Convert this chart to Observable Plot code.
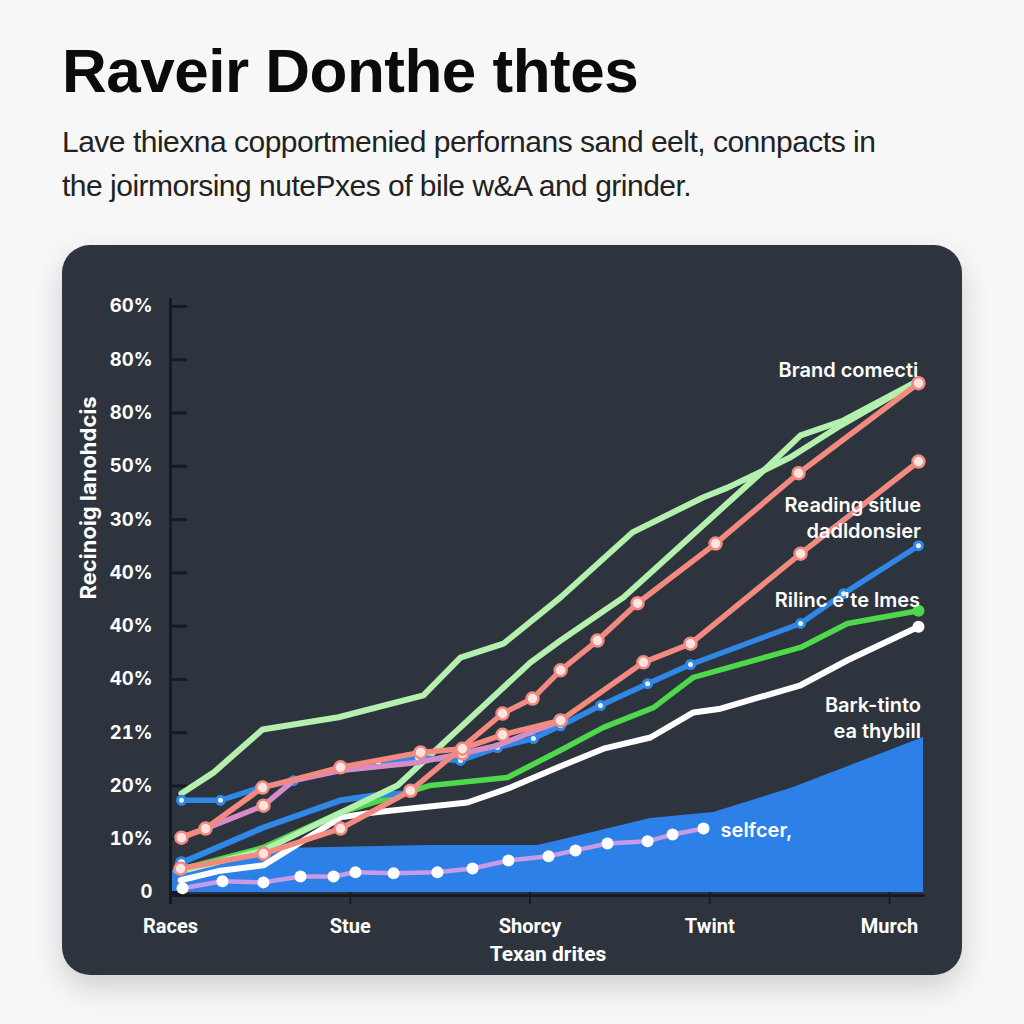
<!DOCTYPE html>
<html><head><meta charset="utf-8">
<script src="https://cdn.jsdelivr.net/npm/d3@7"></script>
<script src="https://cdn.jsdelivr.net/npm/@observablehq/plot@0.6"></script>
<style>
html,body{margin:0;padding:0;}
body{width:1024px;height:1024px;background:#f7f7f7;position:relative;overflow:hidden;font-family:"Liberation Sans",Arial,sans-serif;}
#title{position:absolute;left:62px;top:40px;margin:0;font-size:62px;line-height:62px;font-weight:700;color:#0b0b0b;letter-spacing:-0.5px;white-space:nowrap;}
#subtitle{position:absolute;left:62px;top:120px;margin:0;font-size:30px;line-height:44px;color:#222;letter-spacing:-0.5px;white-space:nowrap;}
#card{position:absolute;left:62px;top:245px;width:900px;height:730px;background:#2e343e;border-radius:28px;box-shadow:0 12px 30px rgba(0,0,0,0.16);}
#card svg{position:absolute;left:0;top:0;}
</style>
</head><body>
<h1 id="title">Raveir Donthe thtes</h1>
<p id="subtitle">Lave thiexna copportmenied perfornans sand eelt, connpacts in<br>the joirmorsing nutePxes of bile w&amp;A and grinder.</p>
<div id="card"></div>
<script>
// ---- data ----
const xLabels = ["Races", "Stue", "Shorcy", "Twint", "Murch"];
const xTicks = [0, 10, 20, 30, 40];
const yLabels = ["0", "10%", "20%", "21%", "40%", "40%", "40%", "30%", "50%", "80%", "80%", "60%"];
const yTicks = [0, 10, 20, 30, 40, 50, 60, 70, 80, 90, 100, 110];

const areaX = [0.11, 2.78, 5.56, 6.84, 14.3, 20.42, 21.7, 26.7, 30.21, 34.66, 41.89];
const areaY = [4.1, 5.1, 7.9, 8.3, 8.8, 8.8, 9.8, 13.9, 15.0, 19.7, 29.1];

const lavenderX = [0.67, 2.89, 5.17, 7.23, 9.07, 10.29, 12.41, 14.85, 16.8, 18.8, 21.03, 22.53, 24.31, 26.54, 27.93, 29.65];
const lavenderY = [0.8, 2.1, 1.9, 3.0, 3.0, 3.8, 3.6, 3.8, 4.5, 6.0, 6.8, 7.9, 9.2, 9.6, 10.9, 12.0];

const whiteX = [0.56, 2.78, 5.17, 9.46, 11.29, 16.52, 18.91, 21.7, 24.09, 26.7, 29.09, 30.6, 35.05, 37.66, 41.61];
const whiteY = [2.3, 4.1, 5.1, 14.1, 15.0, 16.9, 19.7, 23.7, 27.0, 29.1, 33.8, 34.5, 38.9, 43.6, 49.9];

const greenX = [0.28, 5.12, 9.46, 14.46, 18.75, 21.7, 24.09, 26.87, 29.09, 35.05, 37.66, 41.61];
const greenY = [4.1, 8.4, 15.0, 20.1, 21.6, 26.7, 31.0, 34.7, 40.4, 46.0, 50.5, 52.9];

const blueBX = [0.61, 5.17, 9.46, 11.29, 12.8];
const blueBY = [5.6, 12.2, 17.3, 18.2, 18.6];

const blueAX = [0.61, 2.78, 5.0, 6.84, 9.46, 11.57, 13.74, 16.13, 18.19, 20.19, 21.7, 23.92, 26.54, 28.93, 35.05, 37.44, 41.61];
const blueAY = [17.3, 17.3, 19.7, 21.0, 23.5, 24.2, 25.3, 24.8, 27.2, 28.9, 31.3, 35.1, 39.2, 42.8, 50.5, 56.1, 65.1];

const mauveX = [0.56, 1.95, 5.17, 6.84, 9.46, 13.74, 16.24, 18.19, 21.31];
const mauveY = [10.3, 12.0, 16.3, 21.0, 22.9, 24.4, 26.1, 27.6, 31.7];

const redBX = [0.61, 1.95, 5.12, 9.46, 13.91, 16.24, 18.47, 21.7, 26.31, 28.93, 35.05, 41.61];
const redBY = [10.3, 12.0, 19.7, 23.5, 26.3, 27.0, 29.6, 32.3, 43.2, 46.7, 63.6, 80.9];

const redAX = [0.56, 5.17, 9.46, 13.35, 18.47, 20.14, 21.7, 23.75, 25.98, 30.32, 34.94, 41.61];
const redAY = [4.5, 7.3, 12.0, 19.1, 33.6, 36.4, 41.7, 47.3, 54.3, 65.5, 78.7, 95.6];

const lightGreenAX = [0.61, 2.39, 5.12, 9.35, 14.07, 16.13, 18.52, 21.7, 25.7, 29.65, 30.99, 32.99, 34.49, 37.1, 41.56];
const lightGreenAY = [18.6, 22.5, 30.6, 32.9, 37.0, 44.1, 46.7, 55.4, 67.6, 74.2, 76.0, 79.2, 81.7, 87.3, 96.0];

const lightGreenBX = [0.61, 5.17, 9.46, 12.63, 16.13, 20.03, 21.7, 25.2, 32.99, 35.05, 37.44, 41.56];
const lightGreenBY = [4.0, 7.9, 15.0, 20.1, 31.0, 43.2, 47.3, 55.4, 79.2, 85.8, 88.6, 96.0];

const labelTexts = ["Brand comecti", "Reading sitlue\ndadldonsier", "Rilinc e'te lmes", "Bark-tinto\nea thybill"];
const labelX = [41.6, 41.75, 41.7, 41.75];
const labelY = [98.4, 70.6, 55.2, 33.0];
const noteText = ["selfcer,"];
const noteX = [30.6];
const noteY = [11.6];

// ---- build ----
const rows = (xs, ys) => xs.map((x, i) => ({x, y: ys[i]}));
const C = {
  axis: "#171b21", area: "#2d80e8", lavender: "#c79be6", white: "#ffffff",
  green: "#4fd84b", blue: "#2f87e6", mauve: "#d58cc8", red: "#f28a80", light: "#b4f0ae"
};
const lineOpts = (stroke, w = 5.5) => ({x: "x", y: "y", stroke, strokeWidth: w, strokeLinejoin: "round", strokeLinecap: "round"});

const lavender = rows(lavenderX, lavenderY);
const white = rows(whiteX, whiteY);
const green = rows(greenX, greenY);
const blueA = rows(blueAX, blueAY);
const blueB = rows(blueBX, blueBY);
const mauve = rows(mauveX, mauveY);
const redA = rows(redAX, redAY);
const redB = rows(redBX, redBY);
const lgA = rows(lightGreenAX, lightGreenAY);
const lgB = rows(lightGreenBX, lightGreenBY);
const labels = labelTexts.map((t, i) => ({text: t, x: labelX[i], y: labelY[i]}));
const notes = noteText.map((t, i) => ({text: t, x: noteX[i], y: noteY[i]}));

const chart = Plot.plot({
  width: 900, height: 730,
  marginLeft: 108, marginRight: 37, marginTop: 61, marginBottom: 83,
  x: {domain: [0, 42]},
  y: {domain: [0, 110]},
  style: {background: "transparent", color: "#fff", fontFamily: "Inter, sans-serif", overflow: "visible"},
  marks: [
    Plot.areaY(rows(areaX, areaY), {x: "x", y: "y", fill: C.area}),
    Plot.ruleY([0], {stroke: C.axis, strokeWidth: 3, dy: 3}),
    Plot.ruleX([0], {stroke: C.axis, strokeWidth: 3, insetTop: -8, insetBottom: -12}),
    Plot.axisY({ticks: yTicks, tickSize: 17, dx: 17, fill: "none", stroke: C.axis, strokeWidth: 3, label: null}),
    Plot.axisY({ticks: yTicks, tickSize: 0, tickPadding: 18, tickFormat: d => yLabels[Math.round(d / 10)], fill: "#fff", fontSize: 18.5, fontWeight: 700, label: null}),
    Plot.axisX({ticks: xTicks, tickSize: 12, tickPadding: 14, tickFormat: d => xLabels[Math.round(d / 10)], stroke: C.axis, strokeWidth: 2, fill: "#fff", fontSize: 20, fontWeight: 700, fontFamily: "Roboto, sans-serif", label: null}),

    Plot.line(lavender, lineOpts(C.lavender, 4.5)),
    Plot.dot(lavender, {x: "x", y: "y", r: 6, fill: "#fff"}),
    Plot.line(white, lineOpts(C.white, 6)),
    Plot.dot(white.slice(-1), {x: "x", y: "y", r: 6, fill: "#fff"}),
    Plot.line(green, lineOpts(C.green, 5.5)),
    Plot.dot(green.slice(-1), {x: "x", y: "y", r: 6, fill: C.green}),
    Plot.line(blueB, lineOpts(C.blue, 6)),
    Plot.dot(blueB.slice(0, 1), {x: "x", y: "y", r: 5, fill: "#fff", stroke: C.blue, strokeWidth: 3}),
    Plot.line(lgA, lineOpts(C.light, 6)),
    Plot.line(lgB, lineOpts(C.light, 6)),
    Plot.line(blueA, lineOpts(C.blue, 5.5)),
    Plot.dot(blueA, {x: "x", y: "y", r: 4, fill: "#e8f2ff", stroke: C.blue, strokeWidth: 3}),
    Plot.line(mauve, lineOpts(C.mauve, 5.5)),
    Plot.line(redB, lineOpts(C.red, 5.5)),
    Plot.line(redA, lineOpts(C.red, 5.5)),
    Plot.dot(mauve.filter((d, i) => i === 2 || i === 6), {x: "x", y: "y", r: 6, fill: "#fde4e0", stroke: C.red, strokeWidth: 2.5}),
    Plot.dot(redB, {x: "x", y: "y", r: 6, fill: "#fde4e0", stroke: C.red, strokeWidth: 2.5}),
    Plot.dot(redA, {x: "x", y: "y", r: 6, fill: "#fde4e0", stroke: C.red, strokeWidth: 2.5}),

    Plot.text(labels, {x: "x", y: "y", text: "text", textAnchor: "end", fill: "#fff", fontSize: 20, fontWeight: 600, lineHeight: 1.32}),
    Plot.text(notes, {x: "x", y: "y", text: "text", textAnchor: "start", fill: "#fff", fontSize: 20, fontWeight: 600}),
    Plot.text(["Recinoig lanohdcis"], {frameAnchor: "left", rotate: -90, dx: -82, fill: "#fff", fontSize: 22, fontWeight: 700}),
    Plot.text(["Texan drites"], {frameAnchor: "bottom", lineAnchor: "middle", dy: 62, fill: "#fff", fontSize: 21, fontWeight: 700, fontFamily: "Roboto, sans-serif"})
  ]
});
document.getElementById("card").appendChild(chart);
</script>
</body></html>
